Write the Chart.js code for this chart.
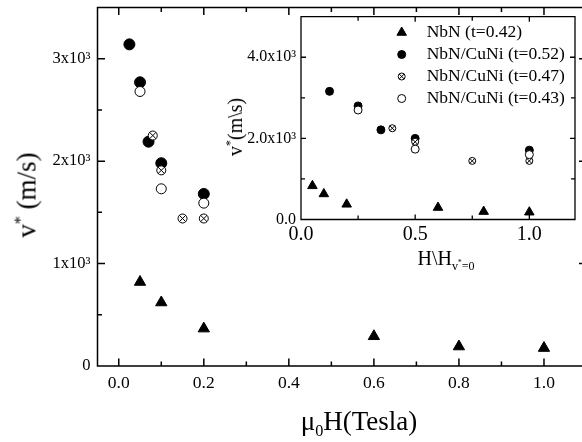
<!DOCTYPE html>
<html>
<head>
<meta charset="utf-8">
<script src="https://cdn.jsdelivr.net/npm/chart.js"></script>
<style>
html, body { margin: 0; padding: 0; background: #fff; overflow: hidden; }
#wrap { position: relative; width: 582px; height: 442px; overflow: hidden; font-family: "Liberation Serif", serif; color: #000; }
canvas { position: absolute; top: 0; }
#main { left: 0; }
#inset { left: 200px; }
.lbl { position: absolute; white-space: nowrap; line-height: 1; transform: translate(-50%, -50%); }
.rot { transform: translate(-50%, -50%) rotate(-90deg); }
sup, sub { font-size: 60%; line-height: 0; }
</style>
</head>
<body>
<div id="wrap">
  <canvas id="main" width="600" height="442"></canvas>
  <canvas id="inset" width="382" height="275"></canvas>
  <div class="lbl rot" style="left:27px; top:195px; font-size:27px;">v<sup>*</sup> (m/s)</div>
  <div class="lbl" style="left:359px; top:421px; font-size:27px;">&mu;<sub>0</sub>H(Tesla)</div>
  <div class="lbl rot" style="left:235px; top:127px; font-size:20px;">v<sup>*</sup>(m\s)</div>
  <div class="lbl" style="left:446px; top:258px; font-size:20px;">H\H<sub>v<sup>*</sup>=0</sub></div>
</div>
<script>
// main plot, field in Tesla
const nbnH = [0.05, 0.1, 0.2, 0.6, 0.8, 1.0];
const nbnV = [820, 620, 365, 290, 190, 175];
const cu52H = [0.025, 0.05, 0.07, 0.1, 0.2];
const cu52V = [3140, 2770, 2190, 1980, 1680];
const cu47H = [0.08, 0.1, 0.15, 0.2];
const cu47V = [2250, 1910, 1440, 1440];
const cu43H = [0.05, 0.1, 0.2];
const cu43V = [2680, 1730, 1590];

// inset, H normalised to H(v*=0)
const nbnHn = [0.05, 0.1, 0.2, 0.6, 0.8, 1.0];
const nbnVn = [830, 630, 375, 295, 195, 180];
const cu52Hn = [0.125, 0.25, 0.35, 0.5, 1.0];
const cu52Vn = [3160, 2800, 2210, 2000, 1710];
const cu47Hn = [0.4, 0.5, 0.75, 1.0];
const cu47Vn = [2250, 1915, 1445, 1445];
const cu43Hn = [0.25, 0.5, 1.0];
const cu43Vn = [2700, 1735, 1600];

const seriesNames = ['NbN (t=0.42)', 'NbN/CuNi (t=0.52)', 'NbN/CuNi (t=0.47)', 'NbN/CuNi (t=0.43)'];

// ticks
const mainXTicks = [0, 0.2, 0.4, 0.6, 0.8, 1.0];
const mainXLabels = ['0.0', '0.2', '0.4', '0.6', '0.8', '1.0'];
const mainXMinor = [0.1, 0.3, 0.5, 0.7, 0.9];
const mainYTicks = [0, 1000, 2000, 3000];
const mainYLabels = ['0', '1x10\u00b3', '2x10\u00b3', '3x10\u00b3'];
const mainYMinor = [500, 1500, 2500];
const insetXTicks = [0, 0.5, 1.0];
const insetXLabels = ['0.0', '0.5', '1.0'];
const insetXMinor = [0.25, 0.75];
const insetYTicks = [0, 2000, 4000];
const insetYLabels = ['0.0', '2.0x10\u00b3', '4.0x10\u00b3'];
const insetYMinor = [1000, 3000];

Chart.defaults.font.family = 'Liberation Serif';
Chart.defaults.color = '#000';

function serie(xs, ys, label, style, r, fill, order, crossed) {
    return {
        label: label,
        data: xs.map((x, i) => ({ x: x, y: ys[i] })),
        pointStyle: style,
        pointRadius: r,
        pointHoverRadius: r,
        backgroundColor: fill,
        borderColor: '#000',
        borderWidth: 1,
        order: order,
        crossed: !!crossed
    };
}

function axis(min, max, vals, labels, size, pad, key, val) {
    return {
        type: 'linear',
        min: min,
        max: max,
        afterBuildTicks: s => { s.ticks = vals.map(v => ({ value: v })); },
        afterFit: s => {
            s[key] = val;
            s.paddingTop = s.paddingBottom = s.paddingLeft = s.paddingRight = 0;
        },
        ticks: {
            callback: (v, i) => labels[i],
            font: { size: size },
            color: '#000',
            padding: pad,
            maxRotation: 0,
            autoSkip: false
        },
        grid: { display: false, drawTicks: false },
        border: { display: false }
    };
}

// x inside a circle marker
function drawCross(ctx, x, y, r) {
    const d = r * Math.SQRT1_2;
    ctx.beginPath();
    ctx.moveTo(x - d, y - d); ctx.lineTo(x + d, y + d);
    ctx.moveTo(x + d, y - d); ctx.lineTo(x - d, y + d);
    ctx.stroke();
}

// frame with inward ticks on all four sides, plus the crossed markers
const frameTicks = {
    id: 'frameTicks',
    beforeDatasetsDraw(chart, args, o) {
        const { ctx, chartArea: a, scales: { x, y } } = chart;
        ctx.save();
        ctx.strokeStyle = '#000';
        ctx.lineWidth = o.width;
        ctx.beginPath();
        const seg = (x1, y1, x2, y2) => { ctx.moveTo(x1, y1); ctx.lineTo(x2, y2); };
        [[o.xMajor, o.major], [o.xMinor, o.minor]].forEach(([vals, len]) => vals.forEach(v => {
            const p = x.getPixelForValue(v);
            seg(p, a.bottom, p, a.bottom - len);
            seg(p, a.top, p, a.top + len);
        }));
        [[o.yMajor, o.major], [o.yMinor, o.minor]].forEach(([vals, len]) => vals.forEach(v => {
            const p = y.getPixelForValue(v);
            seg(a.left, p, a.left + len, p);
            seg(a.right, p, a.right - len, p);
        }));
        ctx.rect(a.left, a.top, a.right - a.left, a.bottom - a.top);
        ctx.stroke();
        ctx.restore();
    },
    afterDatasetDraw(chart, args) {
        const ds = chart.data.datasets[args.index];
        if (!ds.crossed) return;
        const ctx = chart.ctx;
        ctx.save();
        ctx.strokeStyle = '#000';
        ctx.lineWidth = 1;
        args.meta.data.forEach(pt => drawCross(ctx, pt.x, pt.y, ds.pointRadius));
        ctx.restore();
    }
};

// legend inside the inset
const boxLegend = {
    id: 'boxLegend',
    afterDraw(chart, args, o) {
        const ctx = chart.ctx;
        ctx.save();
        ctx.font = o.size + 'px "Liberation Serif"';
        ctx.textBaseline = 'middle';
        chart.data.datasets.forEach((ds, i) => {
            const y = o.top + i * o.gap;
            ctx.fillStyle = ds.backgroundColor;
            ctx.strokeStyle = '#000';
            ctx.lineWidth = 1;
            Chart.helpers.drawPoint(ctx, { pointStyle: ds.pointStyle, radius: ds.pointRadius, rotation: 0, borderWidth: 1 }, o.x, y);
            if (ds.crossed) drawCross(ctx, o.x, y, ds.pointRadius);
            ctx.fillStyle = '#000';
            ctx.fillText(ds.label, o.textX, y);
        });
        ctx.restore();
    }
};

new Chart(document.getElementById('main'), {
    type: 'scatter',
    data: {
        datasets: [
            serie(nbnH, nbnV, seriesNames[0], 'triangle', 6.5, '#000', 4),
            serie(cu52H, cu52V, seriesNames[1], 'circle', 5.5, '#000', 3),
            serie(cu47H, cu47V, seriesNames[2], 'circle', 4.5, '#fff', 2, true),
            serie(cu43H, cu43V, seriesNames[3], 'circle', 5, '#fff', 1)
        ]
    },
    options: {
        responsive: false,
        animation: false,
        events: [],
        layout: { padding: { top: 6.5, right: 13.5, left: 0, bottom: 0 } },
        scales: {
            x: axis(-0.05, 1.1, mainXTicks, mainXLabels, 17.5, 6.5, 'height', 76),
            y: axis(0, 3500, mainYTicks, mainYLabels, 16.5, 7, 'width', 97.5)
        },
        plugins: {
            legend: { display: false },
            tooltip: { enabled: false },
            frameTicks: { width: 1.5, major: 7.5, minor: 4.5, xMajor: mainXTicks, xMinor: mainXMinor, yMajor: mainYTicks, yMinor: mainYMinor }
        }
    },
    plugins: [frameTicks]
});

new Chart(document.getElementById('inset'), {
    type: 'scatter',
    data: {
        datasets: [
            serie(nbnHn, nbnVn, seriesNames[0], 'triangle', 5.5, '#000', 4),
            serie(cu52Hn, cu52Vn, seriesNames[1], 'circle', 4, '#000', 3),
            serie(cu47Hn, cu47Vn, seriesNames[2], 'circle', 3.5, '#fff', 2, true),
            serie(cu43Hn, cu43Vn, seriesNames[3], 'circle', 4, '#fff', 1)
        ]
    },
    options: {
        responsive: false,
        animation: false,
        events: [],
        layout: { padding: { top: 16.7, right: 7, left: 0, bottom: 0 } },
        scales: {
            x: axis(0, 1.2, insetXTicks, insetXLabels, 20, 3.5, 'height', 55.5),
            y: axis(0, 5000, insetYTicks, insetYLabels, 16, 5, 'width', 101)
        },
        plugins: {
            legend: { display: false },
            tooltip: { enabled: false },
            frameTicks: { width: 1.3, major: 5, minor: 4, xMajor: insetXTicks, xMinor: insetXMinor, yMajor: insetYTicks, yMinor: insetYMinor },
            boxLegend: { x: 201.7, textX: 226.7, top: 32.5, gap: 22, size: 17.5 }
        }
    },
    plugins: [frameTicks, boxLegend]
});
</script>
</body>
</html>
